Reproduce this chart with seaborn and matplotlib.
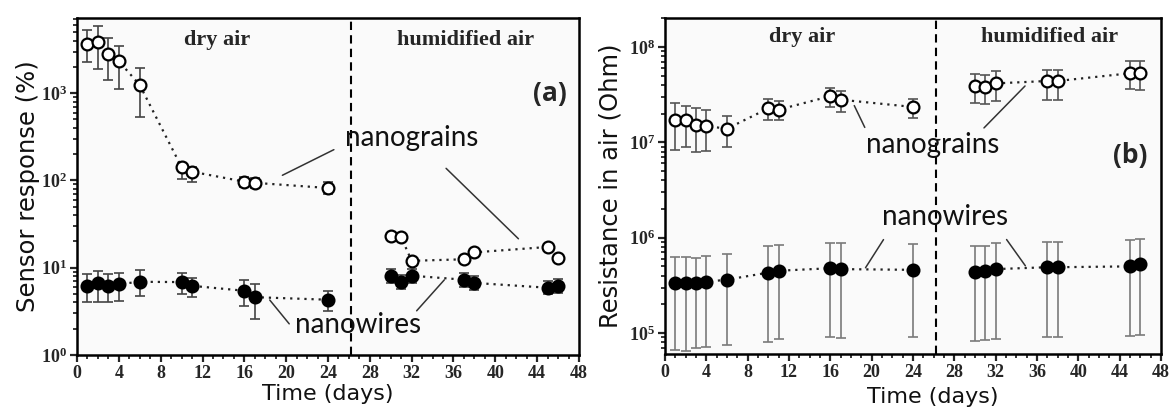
import numpy as np
import pandas as pd
import matplotlib
matplotlib.use("Agg")
import matplotlib.pyplot as plt
from matplotlib.ticker import MultipleLocator, FixedLocator, FuncFormatter, LogLocator, NullFormatter
import seaborn as sns

# ---------------- data ----------------
days_dry = [1, 2, 3, 4, 6, 10, 11, 16, 17, 24]
days_hum = [30, 31, 32, 37, 38, 45, 46]

# (a) sensor response, %
resp_grains_dry = [3700, 3900, 2850, 2330, 1240, 142, 126, 97, 94, 82]
resp_grains_dry_lo = [2250, 1890, 1410, 1130, 530, 105, 95, 85, 82, 70]
resp_grains_dry_hi = [5300, 5900, 4300, 3500, 1950, 157, 142, 110, 108, 96]
resp_grains_hum = [23.4, 22.3, 12.0, 12.5, 15.0, 17.3, 12.8]

resp_wires_dry = [6.2, 6.6, 6.2, 6.5, 6.9, 6.85, 6.2, 5.45, 4.6, 4.3]
resp_wires_dry_lo = [4.1, 4.1, 4.1, 4.2, 4.7, 5.0, 4.6, 3.6, 2.6, 3.2]
resp_wires_dry_hi = [8.5, 9.2, 8.5, 8.8, 9.4, 8.75, 7.7, 7.2, 6.5, 5.4]
resp_wires_hum = [8.1, 6.9, 8.1, 7.3, 6.7, 5.9, 6.2]
resp_wires_hum_lo = [6.6, 5.7, 6.7, 6.0, 5.6, 5.0, 5.2]
resp_wires_hum_hi = [9.8, 8.3, 9.8, 8.8, 8.0, 7.0, 7.4]

# (b) resistance in air, Ohm
res_grains_dry = [1.7e7, 1.7e7, 1.53e7, 1.48e7, 1.39e7, 2.27e7, 2.2e7, 3.05e7, 2.8e7, 2.35e7]
res_grains_dry_lo = [8.4e6, 8.9e6, 7.9e6, 8.2e6, 8.9e6, 1.7e7, 1.7e7, 2.32e7, 2.08e7, 1.82e7]
res_grains_dry_hi = [2.56e7, 2.4e7, 2.27e7, 2.17e7, 1.88e7, 2.84e7, 2.72e7, 3.73e7, 3.47e7, 2.84e7]
res_grains_hum = [3.9e7, 3.85e7, 4.15e7, 4.4e7, 4.4e7, 5.3e7, 5.4e7]
res_grains_hum_lo = [2.6e7, 2.5e7, 2.72e7, 2.8e7, 2.8e7, 3.6e7, 3.5e7]
res_grains_hum_hi = [5.2e7, 5.1e7, 5.6e7, 5.7e7, 5.7e7, 7.1e7, 7.1e7]

res_wires_dry = [3.33e5, 3.33e5, 3.33e5, 3.44e5, 3.63e5, 4.3e5, 4.5e5, 4.78e5, 4.68e5, 4.6e5]
res_wires_dry_lo = [6.6e4, 6.5e4, 6.95e4, 7.2e4, 7.4e4, 8.1e4, 8.6e4, 9.0e4, 8.8e4, 9.0e4]
res_wires_dry_hi = [6.2e5, 6.2e5, 6.05e5, 6.35e5, 6.8e5, 8.2e5, 8.4e5, 8.9e5, 8.8e5, 8.6e5]
res_wires_hum = [4.4e5, 4.5e5, 4.68e5, 4.9e5, 4.9e5, 5.0e5, 5.3e5]
res_wires_hum_lo = [8.3e4, 8.4e4, 8.7e4, 9.1e4, 9.1e4, 9.3e4, 9.5e4]
res_wires_hum_hi = [8.2e5, 8.2e5, 8.8e5, 9.1e5, 9.1e5, 9.4e5, 9.7e5]

boundary_day = 26.2
x_ticks = list(range(0, 49, 4))

# ---------------- style ----------------
sns.set_style("ticks")
plt.rcParams.update({
    "font.family": ["DejaVu Sans"],
    "mathtext.fontset": "custom",
    "mathtext.rm": "Liberation Serif:bold",
    "mathtext.it": "Liberation Serif:italic:bold",
    "mathtext.bf": "Liberation Serif:bold",
    "axes.linewidth": 1.8,
    "axes.edgecolor": "black",
})

W, H = 1172, 412
fig = plt.figure(figsize=(W / 100, H / 100), dpi=100)
fig.patch.set_facecolor("white")


def px_axes(l, t, r, b):
    return fig.add_axes([l / W, (H - b) / H, (r - l) / W, (b - t) / H])


ax_a = px_axes(77, 18, 579, 355)
ax_b = px_axes(665, 18, 1161, 354)


def draw_series(ax, days, vals, lo=None, hi=None, filled=False, ecolor="#444444"):
    v = np.array(vals)
    if lo is not None:
        yerr = np.vstack([v - np.array(lo), np.array(hi) - v])
        ax.errorbar(days, v, yerr=yerr, fmt="none", ecolor=ecolor, elinewidth=1.2,
                    capsize=3.5, capthick=1.2, zorder=2)
    df = pd.DataFrame({"day": days, "value": vals})
    sns.lineplot(data=df, x="day", y="value", ax=ax, color="#222222",
                 linestyle=(0, (1, 2.2)), linewidth=1.6, marker="o", markersize=8.5,
                 markerfacecolor="black" if filled else "white",
                 markeredgecolor="black", markeredgewidth=1.6, zorder=3)


draw_series(ax_a, days_dry, resp_grains_dry, resp_grains_dry_lo, resp_grains_dry_hi)
draw_series(ax_a, days_hum, resp_grains_hum)
draw_series(ax_a, days_dry, resp_wires_dry, resp_wires_dry_lo, resp_wires_dry_hi, filled=True)
draw_series(ax_a, days_hum, resp_wires_hum, resp_wires_hum_lo, resp_wires_hum_hi, filled=True)

draw_series(ax_b, days_dry, res_grains_dry, res_grains_dry_lo, res_grains_dry_hi, ecolor="#555555")
draw_series(ax_b, days_hum, res_grains_hum, res_grains_hum_lo, res_grains_hum_hi, ecolor="#555555")
draw_series(ax_b, days_dry, res_wires_dry, res_wires_dry_lo, res_wires_dry_hi, filled=True, ecolor="#7a7a7a")
draw_series(ax_b, days_hum, res_wires_hum, res_wires_hum_lo, res_wires_hum_hi, filled=True, ecolor="#7a7a7a")

ax_a.set_ylim(1, 10 ** 3.862)
ax_b.set_ylim(10 ** 4.78, 10 ** 8.304)

pow_fmt = FuncFormatter(lambda v, p: r"$\mathrm{10^{%d}}$" % round(np.log10(v)))
for ax in (ax_a, ax_b):
    ax.set_yscale("log")
    ax.set_xlim(0, 48)
    ax.set_facecolor("#fafafa")
    ax.xaxis.set_major_locator(FixedLocator(x_ticks))
    ax.xaxis.set_minor_locator(MultipleLocator(1))
    ax.yaxis.set_major_locator(LogLocator(base=10, numticks=20))
    ax.yaxis.set_minor_locator(LogLocator(base=10, subs=np.arange(2, 10), numticks=20))
    ax.yaxis.set_major_formatter(pow_fmt)
    ax.yaxis.set_minor_formatter(NullFormatter())
    ax.tick_params(which="major", direction="out", length=5, width=1.6, pad=2,
                   top=False, right=False)
    ax.tick_params(which="minor", direction="out", length=3, width=1.3,
                   top=False, right=False)
    for lab in ax.get_xticklabels():
        lab.set_fontfamily("Liberation Serif")
        lab.set_fontweight("bold")
        lab.set_fontsize(13)
    ax.tick_params(axis="y", labelsize=13)
    ax.tick_params(axis="x", labelsize=13)
    for s in ax.spines.values():
        s.set_visible(True)
        s.set_linewidth(1.8)
    ax.axvline(boundary_day, color="black", linestyle=(0, (4, 2.5)), linewidth=1.5, zorder=1)
    ax.text(0.279 if ax is ax_a else 0.276, 0.935 if ax is ax_a else 0.943, "dry air",
            transform=ax.transAxes, ha="center", va="center",
            family="Liberation Serif", fontsize=16, fontweight="bold")
    ax.text(0.775 if ax is ax_a else 0.776, 0.935 if ax is ax_a else 0.943, "humidified air",
            transform=ax.transAxes, ha="center", va="center",
            family="Liberation Serif", fontsize=16, fontweight="bold")
    ax.set_xlabel("Time (days)", fontsize=16, color="#111111")

ax_a.set_ylabel("Sensor response (%)", fontsize=17.5, color="#111111")
ax_b.set_ylabel("Resistance in air (Ohm)", fontsize=17.5, color="#111111")
ax_a.yaxis.set_label_coords(-0.073, 0.5)
ax_b.yaxis.set_label_coords(-0.085, 0.5)
ax_a.xaxis.set_label_coords(0.5, -0.085)
ax_b.xaxis.set_label_coords(0.54, -0.097)

ax_a.text(0.976, 0.777, "(a)", transform=ax_a.transAxes, ha="right", va="center",
          family="Open Sans", fontsize=19, fontweight="bold")
ax_b.text(0.972, 0.592, "(b)", transform=ax_b.transAxes, ha="right", va="center",
          family="Open Sans", fontsize=19, fontweight="bold")

label_kw = dict(family="Lato", fontsize=20, color="#111111", ha="left", va="baseline")
leader_kw = dict(color="#333333", linewidth=1.1)

# panel (a) labels and leader lines
ax_a.text(25.6, 246, "nanograins", **label_kw)
ax_a.annotate("", xy=(19.4, 111), xytext=(24.8, 233), arrowprops=dict(arrowstyle="-", **leader_kw))
ax_a.annotate("", xy=(42.4, 20.4), xytext=(35.1, 145), arrowprops=dict(arrowstyle="-", **leader_kw))
ax_a.text(20.85, 1.79, "nanowires", **label_kw)
ax_a.annotate("", xy=(18.26, 4.52), xytext=(20.46, 2.15), arrowprops=dict(arrowstyle="-", **leader_kw))
ax_a.annotate("", xy=(35.3, 7.67), xytext=(32.3, 3.04), arrowprops=dict(arrowstyle="-", **leader_kw))

# panel (b) labels and leader lines
ax_b.text(19.45, 7.73e6, "nanograins", **label_kw)
ax_b.annotate("", xy=(18.2, 2.58e7), xytext=(19.45, 1.35e7), arrowprops=dict(arrowstyle="-", **leader_kw))
ax_b.annotate("", xy=(35.03, 4.09e7), xytext=(30.68, 1.35e7), arrowprops=dict(arrowstyle="-", **leader_kw))
ax_b.text(21.0, 1.36e6, "nanowires", **label_kw)
ax_b.annotate("", xy=(19.26, 4.57e5), xytext=(21.29, 1.01e6), arrowprops=dict(arrowstyle="-", **leader_kw))
ax_b.annotate("", xy=(35.03, 4.8e5), xytext=(32.9, 1.01e6), arrowprops=dict(arrowstyle="-", **leader_kw))

fig.savefig("out.png", dpi=100, facecolor="white")
